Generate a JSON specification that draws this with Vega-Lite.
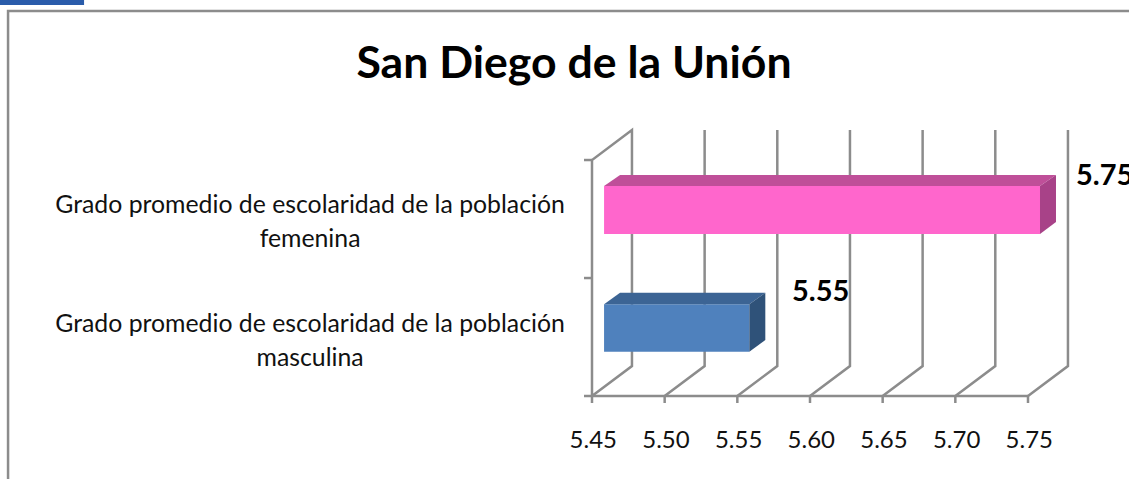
{
"$schema":"https://vega.github.io/schema/vega-lite/v6.json",
"width":1129,"height":479,
"autosize":{"type":"fit","contains":"padding"},
"padding":0,
"background":"white",
"config":{"view":{"stroke":null}},
"datasets":{
"lines":[
{"id":"frame","o":1,"x":5.0482,"y":-0.703},{"id":"frame","o":2,"x":5.0482,"y":3.2627},{"id":"frame","o":3,"x":5.8195,"y":3.2627},
{"id":"wall","o":1,"x":5.45,"y":0},{"id":"wall","o":2,"x":5.4775,"y":0.2542},{"id":"wall","o":3,"x":5.4775,"y":2.2542},{"id":"wall","o":4,"x":5.45,"y":2},{"id":"wall","o":5,"x":5.45,"y":0},
{"id":"g50","o":1,"x":5.50,"y":0},{"id":"g50","o":2,"x":5.5275,"y":0.2542},{"id":"g50","o":3,"x":5.5275,"y":2.2542},
{"id":"g55","o":1,"x":5.55,"y":0},{"id":"g55","o":2,"x":5.5775,"y":0.2542},{"id":"g55","o":3,"x":5.5775,"y":2.2542},
{"id":"g60","o":1,"x":5.60,"y":0},{"id":"g60","o":2,"x":5.6275,"y":0.2542},{"id":"g60","o":3,"x":5.6275,"y":2.2542},
{"id":"g65","o":1,"x":5.65,"y":0},{"id":"g65","o":2,"x":5.6775,"y":0.2542},{"id":"g65","o":3,"x":5.6775,"y":2.2542},
{"id":"g70","o":1,"x":5.70,"y":0},{"id":"g70","o":2,"x":5.7275,"y":0.2542},{"id":"g70","o":3,"x":5.7275,"y":2.2542},
{"id":"g75","o":1,"x":5.75,"y":0},{"id":"g75","o":2,"x":5.7775,"y":0.2542},{"id":"g75","o":3,"x":5.7775,"y":2.2542},
{"id":"base","o":1,"x":5.4445,"y":0},{"id":"base","o":2,"x":5.75,"y":0},
{"id":"ty1","o":1,"x":5.4445,"y":1},{"id":"ty1","o":2,"x":5.45,"y":1},
{"id":"ty2","o":1,"x":5.4445,"y":2},{"id":"ty2","o":2,"x":5.45,"y":2},
{"id":"t45","o":1,"x":5.45,"y":0},{"id":"t45","o":2,"x":5.45,"y":-0.059},
{"id":"t50","o":1,"x":5.50,"y":0},{"id":"t50","o":2,"x":5.50,"y":-0.059},
{"id":"t55","o":1,"x":5.55,"y":0},{"id":"t55","o":2,"x":5.55,"y":-0.059},
{"id":"t60","o":1,"x":5.60,"y":0},{"id":"t60","o":2,"x":5.60,"y":-0.059},
{"id":"t65","o":1,"x":5.65,"y":0},{"id":"t65","o":2,"x":5.65,"y":-0.059},
{"id":"t70","o":1,"x":5.70,"y":0},{"id":"t70","o":2,"x":5.70,"y":-0.059},
{"id":"t75","o":1,"x":5.75,"y":0},{"id":"t75","o":2,"x":5.75,"y":-0.059}
],
"front":[
{"face":"fem-front","x":5.4583,"x2":5.75826,"y":1.3729,"y2":1.7797},
{"face":"mas-front","x":5.4583,"x2":5.55826,"y":0.3754,"y2":0.7771},
{"face":"banner","x":5.04266,"x2":5.1005,"y":3.3136,"y2":3.356}
],
"top":[
{"face":"fem-top","y":1.7797,"xa":5.4583,"xb":5.75826},
{"face":"fem-top","y":1.8729,"xa":5.4693,"xb":5.76926},
{"face":"mas-top","y":0.7771,"xa":5.4583,"xb":5.55826},
{"face":"mas-top","y":0.8754,"xa":5.4693,"xb":5.56926}
],
"side":[
{"face":"fem-side","x":5.75826,"ya":1.3729,"yb":1.7797},
{"face":"fem-side","x":5.76926,"ya":1.4746,"yb":1.8729},
{"face":"mas-side","x":5.55826,"ya":0.3754,"yb":0.7771},
{"face":"mas-side","x":5.56926,"ya":0.4746,"yb":0.8754}
],
"ticks":[
{"x":5.4509,"y":-0.381,"t":"5.45"},{"x":5.5009,"y":-0.381,"t":"5.50"},{"x":5.5509,"y":-0.381,"t":"5.55"},{"x":5.6009,"y":-0.381,"t":"5.60"},{"x":5.6509,"y":-0.381,"t":"5.65"},{"x":5.7009,"y":-0.381,"t":"5.70"},{"x":5.7509,"y":-0.381,"t":"5.75"}
],
"cats":[
{"x":5.2560,"y":1.612,"t":"Grado promedio de escolaridad de la población\nfemenina"},
{"x":5.2560,"y":0.599,"t":"Grado promedio de escolaridad de la población\nmasculina"}
],
"vals":[
{"x":5.7830,"y":1.864,"t":"5.75"},{"x":5.5876,"y":0.881,"t":"5.55"}
],
"title":[{"x":5.4376,"y":2.805,"t":"San Diego de la Unión"}]
},
"layer":[
{"data":{"name":"lines"},"mark":{"type":"line","strokeWidth":2.5,"color":"#8c8c8c","clip":true},
"encoding":{"x":{"field":"x","type":"quantitative","scale":{"domain":[5.04266,5.8195],"nice":false,"zero":false},"axis":null},
"y":{"field":"y","type":"quantitative","scale":{"domain":[-0.703,3.356],"nice":false,"zero":false},"axis":null},
"detail":{"field":"id"},"order":{"field":"o","type":"quantitative"}}},
{"data":{"name":"front"},"mark":{"type":"rect"},
"encoding":{"x":{"field":"x","type":"quantitative"},"x2":{"field":"x2"},"y":{"field":"y","type":"quantitative"},"y2":{"field":"y2"},
"color":{"field":"face","type":"nominal","legend":null,"scale":{"domain":["fem-front","fem-top","fem-side","mas-front","mas-top","mas-side","banner"],"range":["#ff66cc","#bf4f99","#a84288","#4f81bd","#3c6494","#2f5279","#2a5caa"]}}}},
{"data":{"name":"top"},"mark":{"type":"area","orient":"horizontal"},
"encoding":{"y":{"field":"y","type":"quantitative"},"x":{"field":"xa","type":"quantitative","stack":null},"x2":{"field":"xb"},"color":{"field":"face","type":"nominal","legend":null}}},
{"data":{"name":"side"},"mark":{"type":"area","orient":"vertical"},
"encoding":{"x":{"field":"x","type":"quantitative"},"y":{"field":"ya","type":"quantitative","stack":null},"y2":{"field":"yb"},"color":{"field":"face","type":"nominal","legend":null}}},
{"data":{"name":"ticks"},"mark":{"type":"text","font":"Lato","fontSize":24,"color":"#111111","align":"center","baseline":"middle"},
"encoding":{"x":{"field":"x","type":"quantitative"},"y":{"field":"y","type":"quantitative"},"text":{"field":"t"}}},
{"data":{"name":"cats"},"mark":{"type":"text","font":"Lato","fontSize":24.8,"color":"#111111","align":"center","baseline":"middle","lineBreak":"\n","lineHeight":34},
"encoding":{"x":{"field":"x","type":"quantitative"},"y":{"field":"y","type":"quantitative"},"text":{"field":"t"}}},
{"data":{"name":"vals"},"mark":{"type":"text","font":"Lato","fontSize":29,"fontWeight":"bold","color":"#000000","align":"left","baseline":"middle","clip":true},
"encoding":{"x":{"field":"x","type":"quantitative"},"y":{"field":"y","type":"quantitative"},"text":{"field":"t"}}},
{"data":{"name":"title"},"mark":{"type":"text","font":"Lato","fontSize":44.6,"fontWeight":"bold","color":"#000000","align":"center","baseline":"middle"},
"encoding":{"x":{"field":"x","type":"quantitative"},"y":{"field":"y","type":"quantitative"},"text":{"field":"t"}}}
]
}
